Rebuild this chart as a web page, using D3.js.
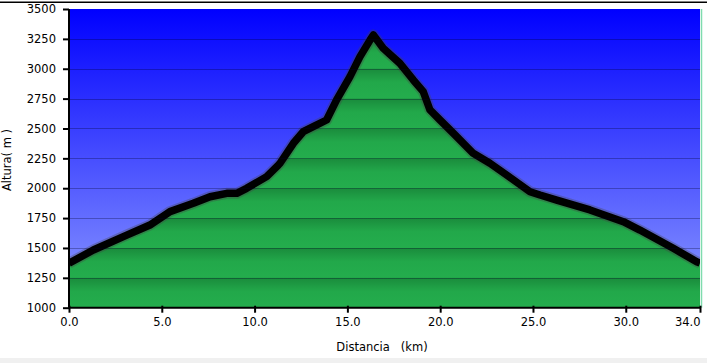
<!DOCTYPE html>
<html>
<head>
<meta charset="utf-8">
<script src="https://cdn.jsdelivr.net/npm/d3@7"></script>
<style>
  body { margin: 0; background: #fff; }
  svg { display: block; }
  text { font-family: "DejaVu Sans", Verdana, sans-serif; font-size: 11.5px; fill: #000; }
</style>
</head>
<body>
<script>
// elevation profile
var distKm = [0, 1.31, 3.11, 4.36, 5.44, 6.70, 7.60, 8.50, 9.04, 9.57, 10.65, 11.28, 11.37,
              12.09, 12.62, 13.16, 13.88, 14.42, 15.14, 15.68, 16.22, 16.40, 16.93, 17.83,
              18.55, 19.09, 19.45, 19.99, 20.71, 21.78, 22.68, 23.58, 24.84, 25.38, 26.28,
              28.07, 29.87, 30.76, 32.56, 33.82, 34.0];
var altura = [1372, 1483, 1608, 1692, 1804, 1874, 1929, 1957, 1957, 1999, 2097, 2194, 2209,
              2376, 2473, 2515, 2571, 2739, 2934, 3101, 3240, 3283, 3171, 3045,
              2906, 2808, 2655, 2571, 2460, 2292, 2209, 2111, 1971, 1943, 1901,
              1818, 1720, 1650, 1497, 1385, 1374];
var yTicks = [1000, 1250, 1500, 1750, 2000, 2250, 2500, 2750, 3000, 3250, 3500];
var xTicks = [0, 5, 10, 15, 20, 25, 30, 34];

var W = 707, H = 363;
var svg = d3.select("body").append("svg").attr("width", W).attr("height", H);

var x = d3.scaleLinear().domain([0, 34]).range([69, 700]);
var y = d3.scaleLinear().domain([1000, 3500]).range([307.7, 9]);

var pts = distKm.map(function(d, i) { return [d, altura[i]]; });

var defs = svg.append("defs");
var sky = defs.append("linearGradient").attr("id", "sky")
    .attr("x1", 0).attr("y1", 0).attr("x2", 0).attr("y2", 1);
sky.append("stop").attr("offset", "0%").attr("stop-color", "#0000ff");
sky.append("stop").attr("offset", "100%").attr("stop-color", "#8e9cff");

// green bands, one per grid step
var band = y(1000) - y(1250);
var pat = defs.append("pattern").attr("id", "grass")
    .attr("patternUnits", "userSpaceOnUse")
    .attr("x", 0).attr("y", y(3500)).attr("width", W).attr("height", band);
var gg = defs.append("linearGradient").attr("id", "bandGrad")
    .attr("x1", 0).attr("y1", 0).attr("x2", 0).attr("y2", 1);
gg.append("stop").attr("offset", "0%").attr("stop-color", "#1a8b3c");
gg.append("stop").attr("offset", "45%").attr("stop-color", "#22a84a");
gg.append("stop").attr("offset", "100%").attr("stop-color", "#24ad4d");
pat.append("rect").attr("width", W).attr("height", band).attr("fill", "url(#bandGrad)");

defs.append("clipPath").attr("id", "plotClip").append("rect")
    .attr("x", x(0)).attr("y", y(3500)).attr("width", x(34) - x(0)).attr("height", y(1000) - y(3500));

// frame bits
svg.append("rect").attr("x", 0).attr("y", 1.5).attr("width", W).attr("height", 1.5).attr("fill", "#000");
svg.append("rect").attr("x", 0).attr("y", 358).attr("width", W).attr("height", 5).attr("fill", "#f0f0f0");

svg.append("rect")
    .attr("x", x(0)).attr("y", y(3500))
    .attr("width", x(34) - x(0)).attr("height", y(1000) - y(3500))
    .attr("fill", "url(#sky)");

var plot = svg.append("g").attr("clip-path", "url(#plotClip)");

plot.append("path").datum(pts)
    .attr("fill", "url(#grass)")
    .attr("d", d3.area().x(function(d) { return x(d[0]); }).y0(y(1000)).y1(function(d) { return y(d[1]); }));

// grid
svg.append("g").selectAll("line").data(yTicks.slice(1, -1)).enter().append("line")
    .attr("x1", x(0)).attr("x2", x(34))
    .attr("y1", function(d) { return Math.round(y(d)) + 0.5; })
    .attr("y2", function(d) { return Math.round(y(d)) + 0.5; })
    .attr("stroke", "rgba(0,0,40,0.3)").attr("stroke-width", 1);

var line = d3.line().x(function(d) { return x(d[0]); }).y(function(d) { return y(d[1]); });
plot.append("path").datum(pts)
    .attr("fill", "none").attr("stroke", "rgba(70,70,70,0.35)")
    .attr("stroke-width", 11).attr("stroke-linejoin", "round")
    .attr("d", line);
plot.append("path").datum(pts)
    .attr("fill", "none").attr("stroke", "#000")
    .attr("stroke-width", 7.5).attr("stroke-linejoin", "round")
    .attr("d", line);

// right edge
svg.append("line").attr("x1", 701.5).attr("x2", 701.5).attr("y1", y(3500)).attr("y2", y(1000))
    .attr("stroke", "#7fdcae").attr("stroke-width", 1.5);

// axes
var yAxis = d3.axisLeft(y).tickValues(yTicks).tickSize(6).tickPadding(7).tickFormat(d3.format("d"));
var gy = svg.append("g").attr("transform", "translate(" + x(0) + ",0)").call(yAxis);
gy.select(".domain").attr("stroke", "#000").attr("stroke-width", 2).attr("d", "M0," + y(3500) + "V" + y(1000));
gy.selectAll(".tick line").attr("stroke-width", 2);
gy.selectAll("text").style("font-family", "DejaVu Sans, Verdana, sans-serif").style("font-size", "11.5px");

var xAxis = d3.axisBottom(x).tickValues(xTicks).tickSize(5).tickPadding(5).tickFormat(d3.format(".1f"));
var gx = svg.append("g").attr("transform", "translate(0," + y(1000) + ")").call(xAxis);
gx.select(".domain").attr("stroke", "#000").attr("stroke-width", 2).attr("d", "M" + x(0) + ",0H" + (x(34) + 1));
gx.selectAll(".tick line").attr("stroke-width", 2).attr("y1", -2);
gx.selectAll("text").style("font-family", "DejaVu Sans, Verdana, sans-serif").style("font-size", "11.5px")
    .attr("text-anchor", function(d) { return d === 34 ? "end" : "middle"; });

svg.append("text").attr("x", 382).attr("y", 351).attr("text-anchor", "middle")
    .attr("xml:space", "preserve").text("Distancia   (km)");
svg.append("text").attr("transform", "translate(11,160) rotate(-90)").attr("text-anchor", "middle")
    .attr("xml:space", "preserve").text("Altura( m )");
</script>
</body>
</html>
